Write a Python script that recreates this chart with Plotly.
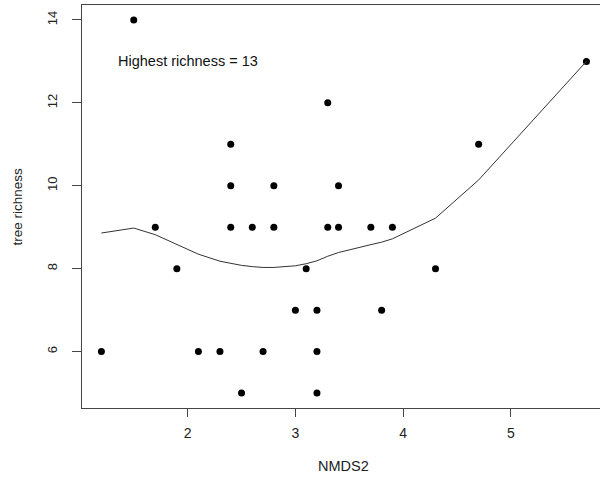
import plotly.graph_objects as go

# Observed sites
nmds2 = [1.2, 1.5, 1.7, 1.9, 2.1, 2.3, 2.4, 2.4, 2.4, 2.5, 2.6, 2.7, 2.8, 2.8,
         3.0, 3.1, 3.2, 3.2, 3.2, 3.3, 3.3, 3.4, 3.4, 3.7, 3.8, 3.9, 4.3, 4.7, 5.7]
richness = [6, 14, 9, 8, 6, 6, 11, 10, 9, 5, 9, 6, 10, 9,
            7, 8, 7, 6, 5, 12, 9, 10, 9, 9, 7, 9, 8, 11, 13]

# Smoothed (lowess) curve
fit_x = [1.2, 1.5, 1.7, 1.9, 2.1, 2.3, 2.4, 2.5, 2.6, 2.7, 2.8, 3.0, 3.1, 3.2,
         3.3, 3.4, 3.7, 3.8, 3.9, 4.3, 4.7, 5.7]
fit_y = [8.86, 8.98, 8.82, 8.58, 8.35, 8.18, 8.13, 8.08, 8.05, 8.03, 8.03, 8.07,
         8.12, 8.19, 8.30, 8.39, 8.58, 8.64, 8.72, 9.22, 10.14, 13.0]

x_ticks = [2, 3, 4, 5]
y_ticks = [6, 8, 10, 12, 14]

FONT = "Arial, Liberation Sans, sans-serif"
AX = "#444444"

fig = go.Figure()
fig.add_trace(go.Scatter(x=nmds2, y=richness, mode="markers",
                         marker=dict(color="black", size=7), hoverinfo="x+y"))
fig.add_trace(go.Scatter(x=fit_x, y=fit_y, mode="lines",
                         line=dict(color="#333333", width=1)))

fig.update_layout(
    width=600, height=478,
    margin=dict(l=82, r=0, t=5, b=70),
    paper_bgcolor="white", plot_bgcolor="white",
    showlegend=False,
    font=dict(family=FONT, color="#222222", size=14),
    xaxis=dict(range=[1.02, 5.826], tickvals=x_ticks, ticks="outside", ticklen=8,
               tickcolor=AX, showline=True, linecolor=AX, linewidth=1, mirror=True,
               showgrid=False, zeroline=False, tickfont=dict(size=14),
               ticklabelstandoff=4),
    yaxis=dict(range=[4.64, 14.36], tickvals=y_ticks, ticks="outside", ticklen=9,
               tickcolor=AX, showline=True, linecolor=AX, linewidth=1,
               showgrid=False, zeroline=False, tickangle=-90, tickfont=dict(size=13),
               ticklabelstandoff=10),
    annotations=[
        dict(text="Highest richness = 13", x=2.0, y=13, xref="x", yref="y",
             showarrow=False, font=dict(size=14.5, color="#111111")),
        dict(text="NMDS2", x=3.45, y=0, xref="x", yref="paper", yanchor="middle",
             yshift=-58, showarrow=False, font=dict(size=14.5, color="#222222")),
        dict(text="tree richness", x=0, y=0.5, xref="paper", yref="paper",
             xanchor="center", yanchor="middle", xshift=-65, textangle=-90,
             showarrow=False, font=dict(size=13.5, color="#222222")),
    ],
)

fig.write_html("out.html", config={"displayModeBar": False},
               post_script="document.body.style.margin='0';document.body.style.overflow='hidden';")
